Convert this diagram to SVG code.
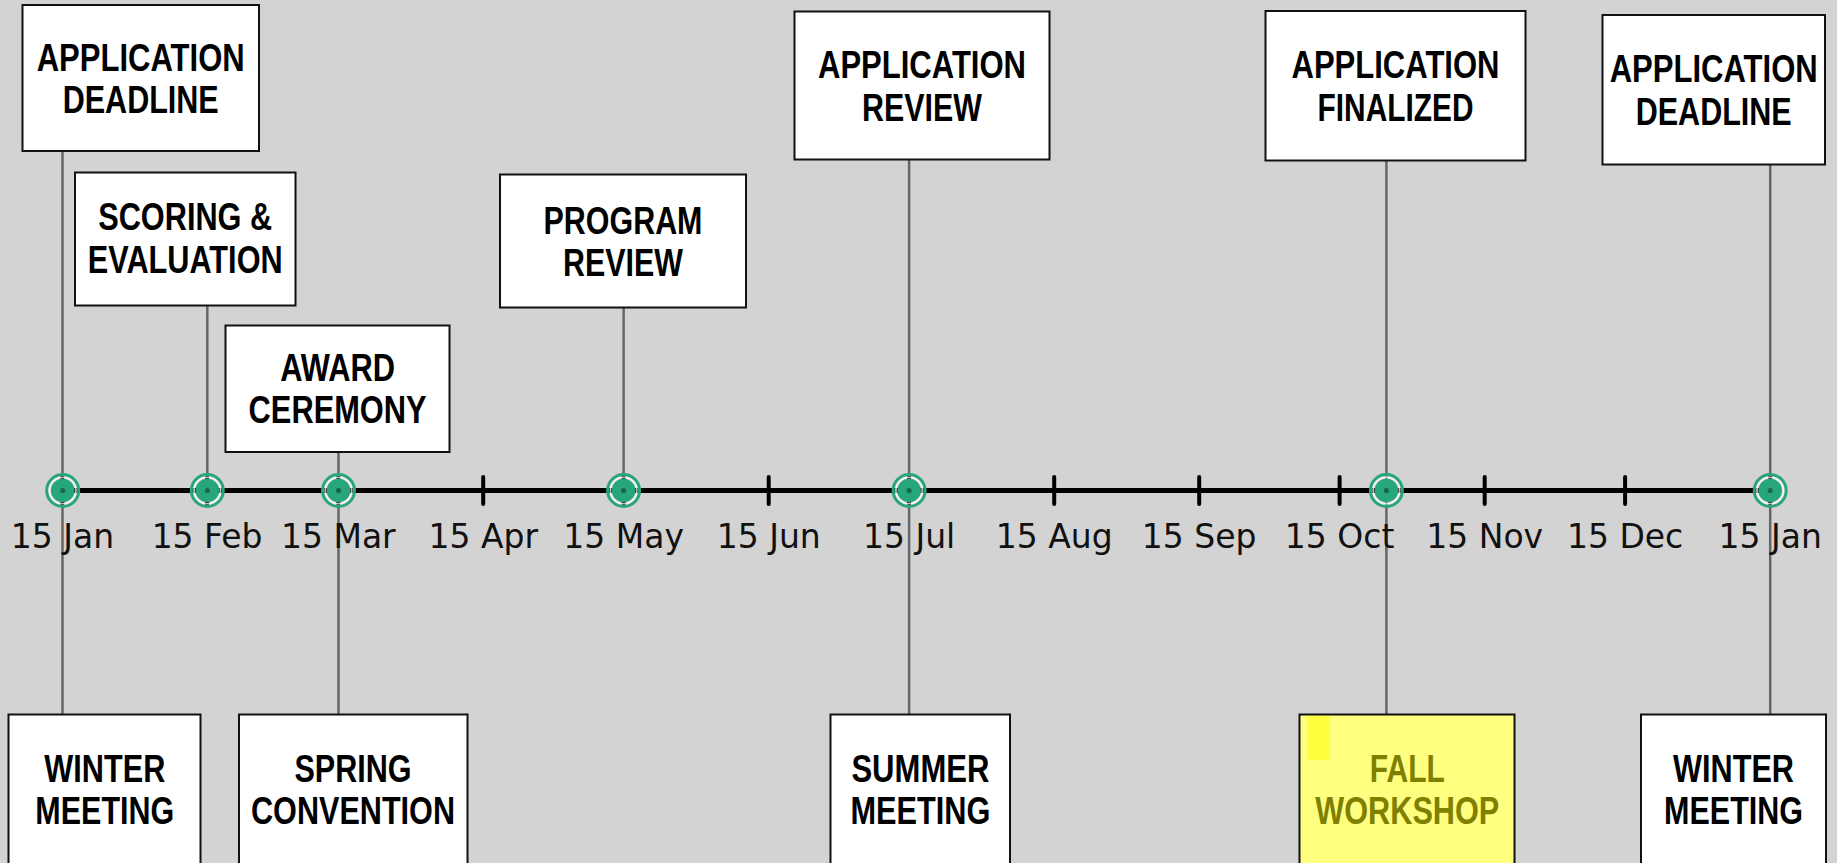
<svg xmlns="http://www.w3.org/2000/svg" width="1837" height="863" viewBox="0 0 1837 863">
<style>
.box{fill:#fff;stroke:#111;stroke-width:2}
.t{font-family:"Liberation Sans",Arial,sans-serif;font-weight:bold;font-size:39px;text-anchor:middle;fill:#000}
.lbl{font-family:"DejaVu Sans",Verdana,sans-serif;font-size:33px;text-anchor:middle;fill:#111}
.conn{stroke:#666;stroke-width:2.5;fill:none}
.tick{stroke:#000;stroke-width:4;stroke-linecap:round}
.ring{fill:none;stroke:#27a67a;stroke-width:3}
.gap{fill:none;stroke:#fff;stroke-width:1.8;opacity:0.75}
.disc{fill:#27a67a}
.dot{fill:#17694d}
.hlbox{fill:#ffff80;stroke:#111;stroke-width:2}
.hlt{fill:#7f7f00}
</style>
<defs>
<g id="marker">
<circle class="ring" r="16"/>
<circle class="gap" r="13.2"/>
<circle class="disc" r="11.8"/>
<circle class="dot" r="2.6"/>
</g>
</defs>
<rect width="1837" height="863" fill="#d3d3d3"/>

<g id="connectors">
<line class="conn" x1="62.5" y1="151" x2="62.5" y2="714.5"/>
<line class="conn" x1="207.3" y1="305.5" x2="207.3" y2="490"/>
<line class="conn" x1="338.5" y1="452" x2="338.5" y2="714.5"/>
<line class="conn" x1="623.6" y1="307.5" x2="623.6" y2="490"/>
<line class="conn" x1="909.1" y1="159.5" x2="909.1" y2="714.5"/>
<line class="conn" x1="1386.4" y1="160.5" x2="1386.4" y2="714.5"/>
<line class="conn" x1="1770.2" y1="164.5" x2="1770.2" y2="714.5"/>
</g>

<g id="axis">
<line x1="62" y1="490.5" x2="1770.2" y2="490.5" stroke="#000" stroke-width="5"/>
<line class="tick" x1="62.3" y1="477" x2="62.3" y2="504"/>
<line class="tick" x1="207.1" y1="477" x2="207.1" y2="504"/>
<line class="tick" x1="338.3" y1="477" x2="338.3" y2="504"/>
<line class="tick" x1="483.2" y1="477" x2="483.2" y2="504"/>
<line class="tick" x1="623.6" y1="477" x2="623.6" y2="504"/>
<line class="tick" x1="768.7" y1="477" x2="768.7" y2="504"/>
<line class="tick" x1="909.1" y1="477" x2="909.1" y2="504"/>
<line class="tick" x1="1054.2" y1="477" x2="1054.2" y2="504"/>
<line class="tick" x1="1199.2" y1="477" x2="1199.2" y2="504"/>
<line class="tick" x1="1339.6" y1="477" x2="1339.6" y2="504"/>
<line class="tick" x1="1484.7" y1="477" x2="1484.7" y2="504"/>
<line class="tick" x1="1625.1" y1="477" x2="1625.1" y2="504"/>
<line class="tick" x1="1770.2" y1="477" x2="1770.2" y2="504"/>
<text class="lbl" x="62.5" y="548">15 Jan</text>
<text class="lbl" x="207.1" y="548">15 Feb</text>
<text class="lbl" x="338.3" y="548">15 Mar</text>
<text class="lbl" x="483.2" y="548">15 Apr</text>
<text class="lbl" x="623.6" y="548">15 May</text>
<text class="lbl" x="768.7" y="548">15 Jun</text>
<text class="lbl" x="909.1" y="548">15 Jul</text>
<text class="lbl" x="1054.2" y="548">15 Aug</text>
<text class="lbl" x="1199.2" y="548">15 Sep</text>
<text class="lbl" x="1339.6" y="548">15 Oct</text>
<text class="lbl" x="1484.7" y="548">15 Nov</text>
<text class="lbl" x="1625.1" y="548">15 Dec</text>
<text class="lbl" x="1770.2" y="548">15 Jan</text>
<use href="#marker" x="62.7" y="490.5"/>
<use href="#marker" x="207.3" y="490.5"/>
<use href="#marker" x="338.5" y="490.5"/>
<use href="#marker" x="623.6" y="490.5"/>
<use href="#marker" x="909.1" y="490.5"/>
<use href="#marker" x="1386.4" y="490.5"/>
<use href="#marker" x="1770.2" y="490.5"/>
</g>

<g id="application-deadline-1">
<rect class="box" x="22.5" y="5" width="236.5" height="146"/>
<g transform="translate(140.7 0) scale(0.78 1)">
<text class="t" x="0" y="71" textLength="266.7" lengthAdjust="spacingAndGlyphs">APPLICATION</text>
<text class="t" x="0" y="113.5" textLength="200" lengthAdjust="spacingAndGlyphs">DEADLINE</text>
</g>
</g>
<g id="scoring-evaluation">
<rect class="box" x="75" y="172.5" width="220.5" height="133"/>
<g transform="translate(185.2 0) scale(0.78 1)">
<text class="t" x="0" y="230" textLength="223.1" lengthAdjust="spacingAndGlyphs">SCORING &amp;</text>
<text class="t" x="0" y="273" textLength="250" lengthAdjust="spacingAndGlyphs">EVALUATION</text>
</g>
</g>
<g id="award-ceremony">
<rect class="box" x="225.5" y="325.5" width="224" height="126.5"/>
<g transform="translate(337.6 0) scale(0.78 1)">
<text class="t" x="0" y="381" textLength="147.4" lengthAdjust="spacingAndGlyphs">AWARD</text>
<text class="t" x="0" y="423.5" textLength="228.2" lengthAdjust="spacingAndGlyphs">CEREMONY</text>
</g>
</g>
<g id="program-review">
<rect class="box" x="500" y="174.5" width="246" height="133"/>
<g transform="translate(623 0) scale(0.78 1)">
<text class="t" x="0" y="234" textLength="203.8" lengthAdjust="spacingAndGlyphs">PROGRAM</text>
<text class="t" x="0" y="276" textLength="153.8" lengthAdjust="spacingAndGlyphs">REVIEW</text>
</g>
</g>
<g id="application-review">
<rect class="box" x="794.5" y="11.5" width="255" height="148"/>
<g transform="translate(922 0) scale(0.78 1)">
<text class="t" x="0" y="78.5" textLength="266.7" lengthAdjust="spacingAndGlyphs">APPLICATION</text>
<text class="t" x="0" y="121" textLength="153.8" lengthAdjust="spacingAndGlyphs">REVIEW</text>
</g>
</g>
<g id="application-finalized">
<rect class="box" x="1265.5" y="11" width="260" height="149.5"/>
<g transform="translate(1395.5 0) scale(0.78 1)">
<text class="t" x="0" y="78.5" textLength="266.7" lengthAdjust="spacingAndGlyphs">APPLICATION</text>
<text class="t" x="0" y="121" textLength="200" lengthAdjust="spacingAndGlyphs">FINALIZED</text>
</g>
</g>
<g id="application-deadline-2">
<rect class="box" x="1602.5" y="15" width="222.5" height="149.5"/>
<g transform="translate(1713.7 0) scale(0.78 1)">
<text class="t" x="0" y="82.5" textLength="266.7" lengthAdjust="spacingAndGlyphs">APPLICATION</text>
<text class="t" x="0" y="125" textLength="200" lengthAdjust="spacingAndGlyphs">DEADLINE</text>
</g>
</g>

<g id="winter-meeting-1">
<rect class="box" x="8.5" y="714.5" width="192" height="152"/>
<g transform="translate(104.8 0) scale(0.78 1)">
<text class="t" x="0" y="781.7" textLength="155.1" lengthAdjust="spacingAndGlyphs">WINTER</text>
<text class="t" x="0" y="824.3" textLength="178.2" lengthAdjust="spacingAndGlyphs">MEETING</text>
</g>
</g>
<g id="spring-convention">
<rect class="box" x="239" y="714.5" width="228.5" height="152"/>
<g transform="translate(353 0) scale(0.78 1)">
<text class="t" x="0" y="781.7" textLength="150" lengthAdjust="spacingAndGlyphs">SPRING</text>
<text class="t" x="0" y="824.3" textLength="261.5" lengthAdjust="spacingAndGlyphs">CONVENTION</text>
</g>
</g>
<g id="summer-meeting">
<rect class="box" x="830.5" y="714.5" width="179.5" height="152"/>
<g transform="translate(920.4 0) scale(0.78 1)">
<text class="t" x="0" y="781.7" textLength="176.9" lengthAdjust="spacingAndGlyphs">SUMMER</text>
<text class="t" x="0" y="824.3" textLength="179.5" lengthAdjust="spacingAndGlyphs">MEETING</text>
</g>
</g>
<g id="fall-workshop">
<rect class="hlbox" x="1299.5" y="714.5" width="215" height="152"/>
<rect x="1307.5" y="716" width="22.5" height="44" fill="#ffff40"/>
<g transform="translate(1407.3 0) scale(0.78 1)">
<text class="t hlt" x="0" y="781.7" textLength="96.2" lengthAdjust="spacingAndGlyphs">FALL</text>
<text class="t hlt" x="0" y="824.3" textLength="235.9" lengthAdjust="spacingAndGlyphs">WORKSHOP</text>
</g>
</g>
<g id="winter-meeting-2">
<rect class="box" x="1641" y="714.5" width="185" height="152"/>
<g transform="translate(1733.5 0) scale(0.78 1)">
<text class="t" x="0" y="781.7" textLength="155.1" lengthAdjust="spacingAndGlyphs">WINTER</text>
<text class="t" x="0" y="824.3" textLength="178.2" lengthAdjust="spacingAndGlyphs">MEETING</text>
</g>
</g>
</svg>
